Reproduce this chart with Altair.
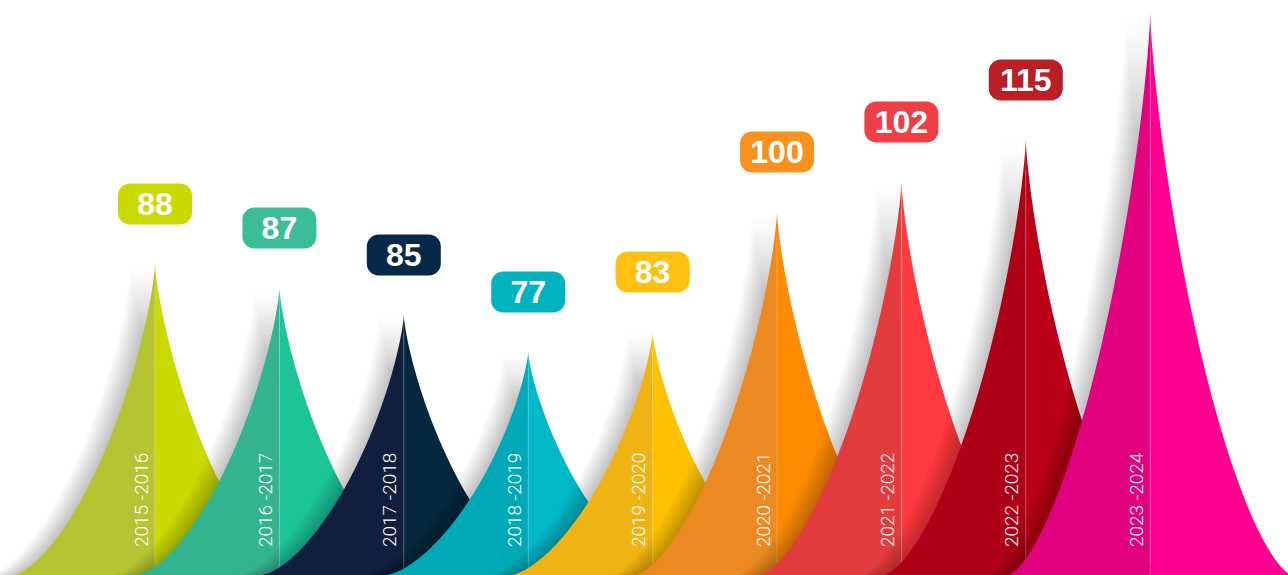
import altair as alt
import numpy as np
import pandas as pd

# ---- data ----
years = ["2015 -2016", "2016 -2017", "2017 -2018", "2018 -2019", "2019 -2020",
         "2020 -2021", "2021 -2022", "2022 -2023", "2023 -2024"]
values = [88, 87, 85, 77, 83, 100, 102, 115, None]
# spike heights above the baseline (px units of the y scale)
peak_heights = [311, 287, 260, 223, 243, 363, 393, 435, 562]
left_colors = ["#B5C432", "#33B38E", "#0F1F3D", "#00A9B7", "#F0B314",
               "#EC8A21", "#E33C3F", "#AE0017", "#E1007E"]
right_colors = ["#C8DA00", "#1DC49A", "#04293F", "#00B8C7", "#FEC200",
                "#FF8C00", "#FF3A40", "#BA0016", "#FF0090"]
box_colors = ["#C8DA00", "#3BBE98", "#06294A", "#00B3C0", "#FEC10F",
              "#F7921E", "#EF3E45", "#B91F24", None]

# ---- layout helpers (scale geometry) ----
W, H = 1288, 575
PX = 124.4                     # pixels per category step
X0 = -155 / PX
xs = alt.Scale(domain=[X0, X0 + W / PX], nice=False, zero=False)
ys = alt.Scale(domain=[0, H], nice=False, zero=False)
HALF = 142 / PX                # half width of a spike base
BOX_W = 37 / PX
BOX_H = 20.5
BOX_OFF = 60

u = np.concatenate([np.linspace(0, 0.04, 25), np.linspace(0.04, 1, 80)[1:]])
prof = (1 - u ** 0.75) ** 1.5


def spike_df(i):
    h = peak_heights[i]
    left = pd.DataFrame({"x": i - u[::-1] * HALF, "y": h * prof[::-1],
                         "col": left_colors[i], "half": "L"})
    right = pd.DataFrame({"x": i + u * HALF, "y": h * prof,
                          "col": right_colors[i], "half": "R"})
    return pd.concat([left, right], ignore_index=True)


def shadow_df(i):
    h = peak_heights[i]
    xx = np.concatenate([i - u[::-1] * HALF, i + u * HALF])
    yy = np.concatenate([h * prof[::-1], h * prof])
    parts = []
    for k in range(1, 13):
        s = 2.0 * k / PX
        parts.append(pd.DataFrame({"x": xx - s, "y": yy, "shift": k}))
    return pd.concat(parts, ignore_index=True)


layers = []
for i in range(len(years)):
    sh = alt.Chart(shadow_df(i)).mark_area(color="black", opacity=0.02).encode(
        x=alt.X("x:Q", scale=xs, axis=None),
        y=alt.Y("y:Q", scale=ys, axis=None, stack=None),
        detail="shift:N",
    )
    ar = alt.Chart(spike_df(i)).mark_area().encode(
        x=alt.X("x:Q", scale=xs, axis=None),
        y=alt.Y("y:Q", scale=ys, axis=None, stack=None),
        color=alt.Color("col:N", scale=None),
        detail="half:N",
    )
    ln = alt.Chart(pd.DataFrame({"x": [i], "y": [0], "y2": [peak_heights[i] * 0.93]})).mark_rule(
        color="white", opacity=0.25, strokeWidth=1
    ).encode(
        x=alt.X("x:Q", scale=xs, axis=None),
        y=alt.Y("y:Q", scale=ys, axis=None),
        y2="y2:Q",
    )
    layers += [sh, ar, ln]

lab = pd.DataFrame({
    "i": list(range(len(years))),
    "year": years,
    "value": values,
    "peak": peak_heights,
    "box": box_colors,
})
lab["ty"] = 28
lab["tx"] = lab["i"] - 13.5 / PX
boxes = lab.dropna(subset=["value"]).copy()
boxes["x1"] = boxes["i"] - BOX_W
boxes["x2"] = boxes["i"] + BOX_W
boxes["yc"] = boxes["peak"] + BOX_OFF
boxes["y1"] = boxes["yc"] - BOX_H
boxes["y2"] = boxes["yc"] + BOX_H
boxes["vtxt"] = boxes["value"].astype(int).astype(str)

year_text = alt.Chart(lab).mark_text(
    angle=270, align="left", baseline="middle", font="Roboto",
    fontSize=19, color="white", fontWeight=300
).encode(
    x=alt.X("tx:Q", scale=xs, axis=None),
    y=alt.Y("ty:Q", scale=ys, axis=None),
    text="year:N",
)

box_rect = alt.Chart(boxes).mark_rect(cornerRadius=12).encode(
    x=alt.X("x1:Q", scale=xs, axis=None), x2="x2:Q",
    y=alt.Y("y1:Q", scale=ys, axis=None), y2="y2:Q",
    color=alt.Color("box:N", scale=None),
)

box_text = alt.Chart(boxes).mark_text(
    font="Liberation Sans", fontWeight="bold", fontSize=32, color="white",
    align="center", baseline="middle", dy=1
).encode(
    x=alt.X("i:Q", scale=xs, axis=None),
    y=alt.Y("yc:Q", scale=ys, axis=None),
    text="vtxt:N",
)

chart = alt.layer(*layers, year_text, box_rect, box_text).properties(
    width=W, height=H, padding=0, autosize=alt.AutoSizeParams(type="none"),
    background="white"
).configure_view(strokeWidth=0)

chart.save("out.html", embed_options={"renderer": "svg", "actions": False})
